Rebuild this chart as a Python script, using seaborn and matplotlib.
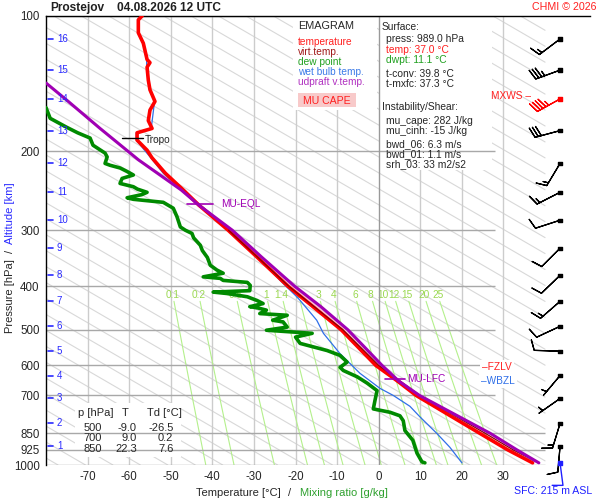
import numpy as np
import matplotlib
matplotlib.use('Agg')
import matplotlib.pyplot as plt
from matplotlib.patches import Rectangle
from matplotlib.ticker import NullLocator
import seaborn as sns

# ---- sounding data ----
temp_p = [989, 925, 850, 700, 650, 600, 500, 444, 400, 344, 300, 264, 244, 224, 207, 199,
          189, 182, 178, 171, 162, 155, 146, 139, 130, 127, 125, 115, 109, 102, 100]
temp_t = [37.0, 31.0, 24.3, 9.0, 4.5, -0.7, -9.0, -15.8, -21.8, -29.3, -36.2, -43.2, -47.0,
          -51.3, -54.5, -55.7, -58.1, -58.1, -54.5, -55.4, -55.0, -53.8, -55.0, -55.4, -55.7,
          -55.0, -55.7, -56.6, -57.8, -57.8, -56.9]

virt_p = [989, 925, 850, 700, 600, 500, 400, 300]
virt_t = [38.4, 32.3, 25.6, 9.9, 0.0, -8.6, -21.6, -36.1]

parcel_p = [989, 925, 850, 700, 650, 600, 500, 444, 400, 344, 300, 264, 244, 218, 209, 178, 154, 141]
parcel_t = [38.5, 33.2, 26.8, 9.8, 4.8, 0.8, -7.4, -13.9, -20.2, -28.2, -35.2, -43.2, -47.5,
            -55.0, -57.8, -67.0, -75.0, -80.0]

dew_p = [989, 984, 941, 881, 838, 797, 777, 763, 750, 718, 683, 657, 636, 616, 606, 590, 570,
         556, 536, 519, 509, 501, 493, 480, 476, 464, 460, 452, 447, 444, 437, 430, 422, 415,
         412, 409, 398, 392, 388, 384, 381, 374, 368, 359, 345, 333, 324, 312, 305, 300, 295,
         280, 268, 260, 256, 254, 250, 247, 243, 240, 236, 230, 226, 222, 218, 215, 213, 206,
         202, 194, 187, 182, 177, 169, 160]
dew_t = [11.1, 10.4, 9.2, 8.2, 6.3, 5.9, 5.1, 2.7, -1.3, -0.9, -0.4, -2.8, -5.2, -8.5, -9.3,
         -7.6, -9.3, -12.4, -18.9, -20.0, -16.0, -27.0, -22.0, -23.0, -25.5, -22.0, -28.6, -27.0,
         -29.0, -31.0, -27.8, -29.3, -31.6, -36.5, -39.8, -31.0, -30.9, -31.6, -37.4, -38.1,
         -42.2, -37.4, -38.9, -40.5, -41.2, -42.4, -42.9, -44.5, -44.9, -46.5, -47.7, -48.5,
         -49.4, -51.8, -59.0, -60.5, -57.0, -55.7, -58.0, -59.0, -62.2, -61.7, -59.0, -60.5,
         -62.2, -64.6, -65.8, -65.3, -65.8, -68.7, -69.4, -72.4, -75.0, -79.0, -80.0]

wb_p = [989, 913, 851, 781, 740, 700, 675, 625, 565, 509, 476, 430, 422, 394, 350, 316, 290,
        275, 250, 224, 207, 189, 182, 178, 155, 146, 139, 130, 125, 115, 109, 102, 100]
wb_t = [20.0, 17.1, 14.0, 9.9, 7.5, 3.5, 0.3, -4.5, -9.3, -13.3, -14.9, -18.9, -19.7, -23.0,
        -28.5, -33.3, -38.0, -40.5, -46.0, -51.8, -54.8, -58.3, -58.3, -54.7, -53.9, -55.1,
        -55.5, -55.8, -55.8, -56.7, -57.9, -57.9, -57.0]

# altitude marks (km) and the pressure where they sit
alt_km = list(range(1, 17))
alt_p = [909, 808, 711, 632, 558, 491, 432, 378, 329, 285, 247, 213, 180, 153, 132, 112.5]

# wind at each km level: direction (deg, from) and speed
wind_dir = [185, 197, 235, 220, 272, 245, 229, 226, 225, 252, 243, 211, 255, 241, 250, 233]
wind_spd = [10, 15, 5, 5, 10, 10, 15, 10, 10, 10, 15, 15, 30, 45, 35, 15]
sfc_p = 989

p_levels = [100, 200, 300, 400, 500, 600, 700, 850, 925, 1000]
t_ticks = [-70, -60, -50, -40, -30, -20, -10, 0, 10, 20, 30]
mix_ratios = [0.1, 0.2, 0.5, 1, 1.4, 2, 3, 4, 6, 8, 10, 12, 15, 20, 25]

# ---- figure ----
sns.set_style('white')
plt.rcParams['font.family'] = ['Liberation Sans', 'DejaVu Sans']

fig = plt.figure(figsize=(6, 5), dpi=100)
ax = fig.add_axes([46 / 600, 35 / 500, 544 / 600, 449 / 500])
ax.set_yscale('log')
ax.set_ylim(1000, 100)
ax.set_xlim(-80, 50.8)
ax.yaxis.set_minor_locator(NullLocator())
ax.set_yticks(p_levels)
ax.set_yticklabels([str(p) for p in p_levels])
ax.set_xticks(t_ticks)
ax.set_xticklabels([str(t) for t in t_ticks])
ax.tick_params(length=0, labelsize=8.3, pad=4.5)
for s in ['right', 'bottom']:
    ax.spines[s].set_visible(False)
for s in ['top', 'left']:
    ax.spines[s].set_color('black')
    ax.spines[s].set_linewidth(1)

# background diagonal lines (straight, evenly spaced)
pp = np.array([100.0, 1000.0])
for t0 in 48.3 + 6.6 * np.arange(-20, 30):
    tt = t0 + 80.7 * np.log(pp / 1000.0)
    if tt[1] > 40:
        # cut the line where it crosses 40 C
        p_cut = 1000.0 * np.exp((40 - t0) / 80.7)
        ax.plot([tt[0], 40], [100.0, p_cut], color='#d8d8d8', lw=0.8, zorder=1)
    else:
        ax.plot(tt, pp, color='#d8d8d8', lw=0.8, zorder=1)

# vertical grid
for t in t_ticks:
    ax.axvline(t, color='#999999' if t == 0 else '#cccccc', lw=1, zorder=1.2 if t else 1.9)

# mixing ratio lines
pm = np.geomspace(432, 1000, 50)
for w in mix_ratios:
    e = w * pm / (622.0 + w)
    lnr = np.log(e / 6.112)
    td = 243.5 * lnr / (17.67 - lnr)
    ax.plot(td, pm, color='#b4f08c', lw=0.8, zorder=1.3)
    e0 = w * 418 / (622.0 + w)
    l0 = np.log(e0 / 6.112)
    ax.text(243.5 * l0 / (17.67 - l0), 418, f'{w:g}', color='#9ad850', fontsize=7.3,
            ha='center', va='center', zorder=1.4)

# white boxes behind the texts
for bx, by, bw, bh in [(0.454, 0.791, 0.154, 0.209), (0.614, 0.657, 0.206, 0.343),
                       (0.0533, 0.0178, 0.195, 0.12)]:
    ax.add_patch(Rectangle((bx, by), bw, bh, transform=ax.transAxes, facecolor='white',
                           edgecolor='none', zorder=1.5))

# horizontal grid
for p in p_levels:
    ax.hlines(p, -80, 28 if p <= 700 else 40, color='#a8a8a8', lw=1, zorder=1.8)

# CAPE area
env = dict(zip(temp_p, temp_t))
par = dict(zip(parcel_p, parcel_t))
cp = [650, 600, 500, 444, 400, 344, 300, 264]
ax.fill_betweenx(cp, [env[p] for p in cp], [par[p] for p in cp], color='#f6c4d4', zorder=4)

# profiles
sns.lineplot(x=wb_t, y=wb_p, sort=False, estimator=None, color='#2f6fe8', lw=0.9, ax=ax, zorder=4.5)
sns.lineplot(x=dew_t, y=dew_p, sort=False, estimator=None, color='#008a00', lw=2.6, ax=ax, zorder=5)
sns.lineplot(x=temp_t, y=temp_p, sort=False, estimator=None, color='#ff0000', lw=2.6, ax=ax, zorder=5.2)
sns.lineplot(x=virt_t, y=virt_p, sort=False, estimator=None, color='#8b0000', lw=0.9, ax=ax, zorder=5.3)
sns.lineplot(x=parcel_t, y=parcel_p, sort=False, estimator=None, color='#a000b4', lw=2.2, ax=ax, zorder=5.5)
ax.set_xlabel('')
ax.set_ylabel('')

# altitude marks
blue = '#2a2aff'
for km, p in zip(alt_km, alt_p):
    ax.plot([-79.6, -78.3], [p, p], color=blue, lw=1.2, zorder=6)
    ax.text(-77.4, p, str(km), color=blue, fontsize=7, ha='left', va='center', zorder=6)

# level annotations
ax.plot([-61.7, -56.6], [187, 187], color='black', lw=1, zorder=6)
ax.text(-56.2, 189, 'Tropo', fontsize=7.3, ha='left', va='center', zorder=6)
ax.plot([-46.1, -39.9], [262.5, 262.5], color='#a000b4', lw=1.2, zorder=6)
ax.text(-37.8, 262.5, 'MU-EQL', color='#a000b4', fontsize=7.3, ha='left', va='center', zorder=6)
ax.plot([1.5, 6.3], [645, 645], color='#a000b4', lw=1.2, zorder=6)
ax.text(6.8, 645, 'MU-LFC', color='#a000b4', fontsize=7.3, ha='left', va='center', zorder=6)
ax.text(24.9, 604, '\u2013FZLV', color='#ff2020', fontsize=7.3, ha='left', va='center', zorder=6,
        bbox=dict(facecolor='white', edgecolor='none', pad=1.5))
ax.text(24.7, 651, '\u2013WBZL', color='#2f6fe8', fontsize=7.3, ha='left', va='center', zorder=6,
        bbox=dict(facecolor='white', edgecolor='none', pad=1.5))
ax.text(36.6, 151, 'MXWS \u2013', color='#ff2020', fontsize=7.3, ha='right', va='center', zorder=6)

# wind barbs
bx = 43.6
rad = np.deg2rad(wind_dir)
u = -np.array(wind_spd) * np.sin(rad)
v = -np.array(wind_spd) * np.cos(rad)
colors = ['#ff0000' if s == max(wind_spd) else 'black' for s in wind_spd]
ax.barbs(np.full(len(alt_p), bx), alt_p, u, v, length=6.1, linewidth=0.9, color=colors,
         pivot='tip', zorder=6, clip_on=False)
ax.scatter(np.full(len(alt_p), bx), alt_p, marker='s', s=6, c=colors, zorder=7, clip_on=False)
ax.scatter([bx], [sfc_p], marker='s', s=6, c='#2020ff', zorder=7, clip_on=False)
ax.plot([bx, 44.3, 41.7], [sfc_p, 1110, 1110], color='#2020ff', lw=1, clip_on=False, zorder=7)


def ftext(px, py, s, **kw):
    kw.setdefault('va', 'center')
    kw.setdefault('fontsize', 7.4)
    fig.text(px / 600, 1 - py / 500, s, **kw)


ftext(553, 491.5, 'SFC: 215 m ASL', color='#2020ff', ha='center', fontsize=7.6)

# title
ftext(50, 8, 'Prostejov', fontsize=8.6, weight='bold', color='#202020')
ftext(117, 8, '04.08.2026 12 UTC', fontsize=8.6, weight='bold', color='#202020')
ftext(597, 7, 'CHMI \u00a9 2026', fontsize=7.7, color='#ff2020', ha='right')

# axis labels
ftext(281, 493, 'Temperature [\u00b0C]', fontsize=8, ha='right')
ftext(290, 493, '/', fontsize=8, ha='center')
ftext(300, 493, 'Mixing ratio [g/kg]', fontsize=8, ha='left', color='#2ea02e')
fig.text(10 / 600, 1 - 259 / 500, 'Pressure [hPa]', rotation=90, ha='center', va='top', fontsize=8)
fig.text(10 / 600, 1 - 251 / 500, '/', rotation=90, ha='center', va='center', fontsize=8)
fig.text(10 / 600, 1 - 244 / 500, 'Altitude [km]', rotation=90, ha='center', va='bottom',
         fontsize=8, color=blue)

# legend box
ftext(298, 25.7, 'EMAGRAM', fontsize=7.8)
legend_items = [('temperature', '#ff2020'), ('virt.temp.', '#a01818'), ('dew point', '#20a020'),
                ('wet bulb temp.', '#3a7ae8'), ('udpraft v.temp.', '#b030c0')]
for i, (s, c) in enumerate(legend_items):
    ftext(298, 42.3 + 9.85 * i, s, color=c, fontsize=7.3)
fig.patches.append(Rectangle((298 / 600, 1 - 107 / 500), 58 / 600, 14 / 500,
                             transform=fig.transFigure, facecolor='#f8caca', edgecolor='none', zorder=2))
ftext(303, 100.7, 'MU CAPE', color='#ff2020', fontsize=7.6, zorder=3)

# surface box
ftext(382, 27.3, 'Surface:')
ftext(386.5, 39.3, 'press: 989.0 hPa')
ftext(386.5, 50, 'temp: 37.0 \u00b0C', color='#ff2020')
ftext(386.5, 60, 'dwpt: 11.1 \u00b0C', color='#20a020')
ftext(386.5, 74, 't-conv: 39.8 \u00b0C')
ftext(386.5, 84, 't-mxfc: 37.3 \u00b0C')
ftext(382, 107.5, 'Instability/Shear:')
ftext(386.5, 120.5, 'mu_cape: 282 J/kg')
ftext(386.5, 130.5, 'mu_cinh: -15 J/kg')
ftext(386.5, 144.3, 'bwd_06: 6.3 m/s')
ftext(386.5, 154.3, 'bwd_01: 1.1 m/s')
ftext(386.5, 164, 'srh_03: 33 m2/s2')

# table
ftext(78, 413, 'p [hPa]', fontsize=8)
ftext(125.5, 413, 'T', fontsize=8, ha='center')
ftext(147, 413, 'Td [\u00b0C]', fontsize=8)
table_p = ['500', '700', '850']
table_t = ['-9.0', '9.0', '22.3']
table_td = ['-26.5', '0.2', '7.6']
for i, (a, b, c) in enumerate(zip(table_p, table_t, table_td)):
    yy = 428 + 10.4 * i
    ftext(102, yy, a, fontsize=8, ha='right')
    ftext(137, yy, b, fontsize=8, ha='right')
    ftext(173.5, yy, c, fontsize=8, ha='right')

fig.savefig('out.png', dpi=100)
